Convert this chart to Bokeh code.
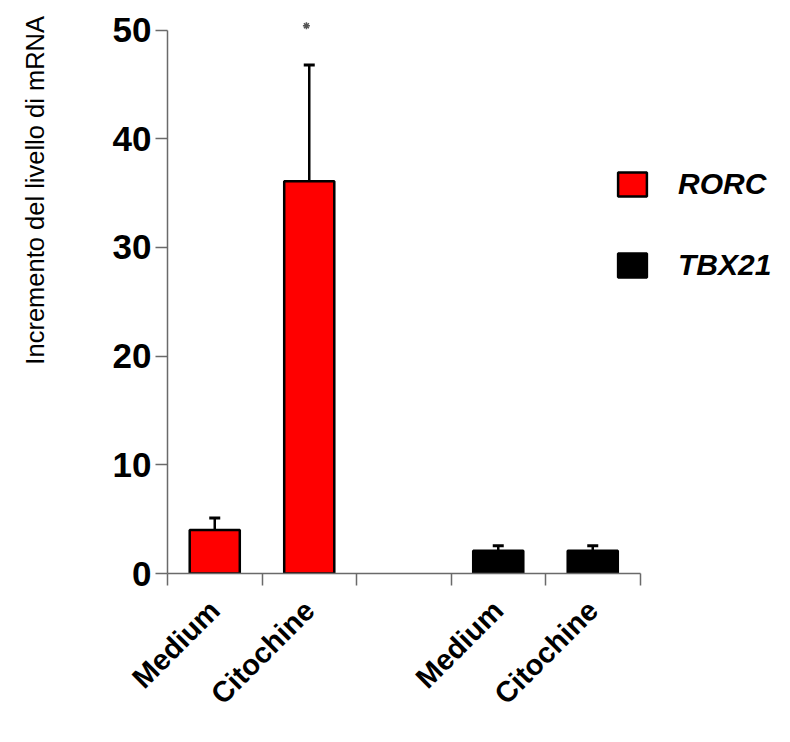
from math import pi
from bokeh.plotting import figure
from bokeh.models import (ColumnDataSource, FixedTicker, Range1d, Whisker, TeeHead,
                          Legend, LegendItem, LinearAxis)
from bokeh.embed import file_html
from bokeh.resources import INLINE

# ---- data ----
categories = ["Medium", "Citochine", "", "Medium", "Citochine"]
rorc_pos = [0, 1]
rorc_values = [4.0, 36.1]
rorc_errors = [1.1, 10.7]
tbx_pos = [3, 4]
tbx_values = [2.1, 2.1]
tbx_errors = [0.45, 0.45]
star_pos = [0.97]
star_value = [50.4]
y_ticks = [0, 10, 20, 30, 40, 50]
y_label = "Incremento del livello di mRNA"

# ---- layout constants ----
W, H = 774, 726
left, right, top, bottom = 167, 0, 5, 153
slot_px = 94.5
y_px = 10.868
frame_w = W - left - right
frame_h = H - top - bottom
x_end = -0.5 + frame_w / slot_px
y_end = frame_h / y_px
title_pad = "\u00a0" * 28   # shifts the centred y title towards the top, as in the reference

p = figure(width=W, height=H, output_backend="svg", toolbar_location=None,
           x_range=Range1d(-0.5, x_end), y_range=Range1d(0, y_end),
           min_border_left=left, min_border_right=right,
           min_border_top=top, min_border_bottom=bottom,
           x_axis_location=None, y_axis_location=None)
p.grid.visible = False
p.outline_line_color = None
p.background_fill_color = "white"

AX = "#6a6a6a"
font = "Liberation Sans"

yaxis = LinearAxis(ticker=FixedTicker(ticks=y_ticks, minor_ticks=[]), bounds=(0, 50))
yaxis.axis_line_color = AX
yaxis.axis_line_width = 1.5
yaxis.major_tick_line_color = AX
yaxis.major_tick_line_width = 1.5
yaxis.major_tick_out = 12
yaxis.major_tick_in = 0
yaxis.major_label_standoff = 4
yaxis.major_label_text_font = font
yaxis.major_label_text_font_style = "bold"
yaxis.major_label_text_font_size = "35px"
yaxis.major_label_text_color = "black"
p.add_layout(yaxis, "left")

# title-only axis, used to place the y title where the reference has it
tax = LinearAxis(ticker=FixedTicker(ticks=[], minor_ticks=[]))
tax.axis_line_color = None
tax.major_tick_line_color = None
tax.minor_tick_line_color = None
tax.major_label_text_font_size = "0px"
tax.axis_label = title_pad + y_label
tax.axis_label_text_font = font
tax.axis_label_text_font_style = "normal"
tax.axis_label_text_font_size = "25.5px"
tax.axis_label_text_color = "black"
tax.axis_label_standoff = 61
p.add_layout(tax, "left")

label_ticks = [i for i, c in enumerate(categories) if c]
xaxis = LinearAxis(ticker=FixedTicker(ticks=label_ticks,
                                      minor_ticks=[i - 0.5 for i in range(len(categories) + 1)]),
                   bounds=(-0.5, len(categories) - 0.5))
xaxis.major_label_overrides = {i: categories[i] for i in label_ticks}
xaxis.axis_line_color = AX
xaxis.axis_line_width = 1.5
xaxis.major_tick_line_color = None
xaxis.major_tick_out = 28
xaxis.major_tick_in = 0
xaxis.minor_tick_line_color = AX
xaxis.minor_tick_line_width = 1.5
xaxis.minor_tick_out = 12
xaxis.minor_tick_in = 0
xaxis.major_label_orientation = pi / 4
xaxis.major_label_standoff = 4
xaxis.major_label_text_font = font
xaxis.major_label_text_font_style = "bold"
xaxis.major_label_text_font_size = "29px"
xaxis.major_label_text_color = "black"
p.add_layout(xaxis, "below")

src_r = ColumnDataSource(dict(x=rorc_pos, top=rorc_values,
                              upper=[v + e for v, e in zip(rorc_values, rorc_errors)]))
src_t = ColumnDataSource(dict(x=tbx_pos, top=tbx_values,
                              upper=[v + e for v, e in zip(tbx_values, tbx_errors)]))

r_r = p.vbar(x="x", top="top", width=0.53, source=src_r, fill_color="#ff0000",
             line_color="black", line_width=2.5)
r_t = p.vbar(x="x", top="top", width=0.53, source=src_t, fill_color="black",
             line_color="black", line_width=2.5)

for src in (src_r, src_t):
    w = Whisker(source=src, base="x", lower="top", upper="upper",
                line_color="black", line_width=2.5, lower_head=None,
                upper_head=TeeHead(size=11, line_width=3, line_color="black"))
    p.add_layout(w)

p.scatter(x=star_pos, y=star_value, marker="asterisk", size=7,
          line_color="#555555", line_width=1.5)

legend = Legend(items=[LegendItem(label="RORC", renderers=[r_r]),
                       LegendItem(label="TBX21", renderers=[r_t])],
                location=(447, 291), orientation="vertical")
legend.glyph_width = 36
legend.glyph_height = 30
legend.label_text_font = font
legend.label_text_font_style = "bold italic"
legend.label_text_font_size = "30px"
legend.label_text_color = "black"
legend.label_standoff = 28
legend.spacing = 47
legend.padding = 0
legend.margin = 0
legend.border_line_color = None
legend.background_fill_alpha = 0
p.add_layout(legend)

open("out.html", "w").write(file_html(p, INLINE))
